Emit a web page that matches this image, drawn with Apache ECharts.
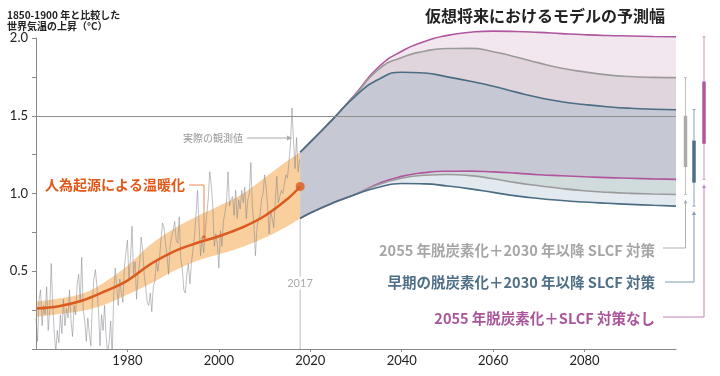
<!DOCTYPE html>
<html lang="ja">
<head>
<meta http-equiv="Content-Type" content="text/html; charset=utf-8"/>
<title>世界気温の上昇と予測幅</title>
<script type="text/javascript" src="https://cdn.jsdelivr.net/npm/echarts@6.0.0/dist/echarts.min.js"></script>
<style>
    body { margin: 0; background: #fff; }
    #main { width: 720px; height: 376px; }
</style>
</head>
<body>
<div id="main"></div>
<script type="text/javascript">
// 実際の観測値（1960年1月から4か月ごと）
var obsStart = 1960;
var obsStep = 1 / 3;
var obsValues = [
    0.20, 0.05, 0.32,  0.38, 0.15, 0.28,  0.22, 0.40, 0.12,  0.25, 0.55, 0.28,  0.10, -0.02, 0.12,
    0.04, 0.22, 0.10,  0.32, 0.15, 0.26,  0.20, 0.38, 0.18,  0.08, 0.28, 0.22,  0.42, 0.48, 0.30,
    0.59, 0.25, 0.18,  0.05, 0.20, 0.10,  0.02, 0.30, 0.45,  0.51, 0.40, 0.25,  0.02, 0.22, 0.12,
    0.28, 0.08, -0.02, 0.04, 0.18, -0.05, 0.35, 0.52, 0.40,  0.28, 0.45, 0.36,  0.30, 0.52, 0.62,
    0.70, 0.45, 0.58,  0.79, 0.48, 0.56,  0.32, 0.48, 0.55,  0.72, 0.64, 0.48,  0.40, 0.30, 0.28,
    0.36, 0.24, 0.40,  0.44, 0.56, 0.50,  0.58, 0.70, 0.81,  0.78, 0.68, 0.60,  0.48, 0.66, 0.72,
    0.76, 0.82, 0.70,  0.68, 0.85, 0.58,  0.52, 0.38, 0.36,  0.48, 0.55, 0.42,  0.55, 0.64, 0.72,
    0.86, 1.02, 0.80,  0.60, 0.72, 0.62,  0.74, 0.86, 0.96,  1.14, 1.06, 0.92,  0.66, 0.74, 0.68,
    0.52, 0.76, 0.66,  0.82, 0.88, 0.94,  1.14, 0.92, 0.96,  0.98, 0.86, 1.02,  0.84, 0.96, 0.90,
    1.02, 0.94, 1.04,  0.84, 0.96, 1.00,  1.20, 0.92, 0.80,  0.60, 0.78, 0.84,  0.86, 0.96, 1.00,
    1.12, 1.04, 0.92,  0.74, 0.88, 0.84,  0.78, 0.94, 1.11,  0.94, 0.98, 1.02,  1.00, 1.06, 1.12,
    1.10, 1.20, 1.32,  1.55, 1.34, 1.16,  1.36, 1.14, 1.22
];

// 人為起源による温暖化（中央値と幅）
var warmYears = [1960, 1965, 1970, 1975, 1980, 1985, 1990, 1995, 2000, 2005, 2010, 2015, 2017.8];
var warmMid  = [0.26, 0.275, 0.31, 0.37, 0.44, 0.545, 0.625, 0.68, 0.725, 0.78, 0.855, 0.965, 1.045];
var warmHigh = [0.305, 0.325, 0.355, 0.43, 0.535, 0.67, 0.77, 0.85, 0.92, 0.995, 1.10, 1.21, 1.265];
var warmLow  = [0.207, 0.225, 0.245, 0.285, 0.35, 0.42, 0.50, 0.565, 0.61, 0.655, 0.715, 0.79, 0.84];

// 将来予測の幅（上端・下端）
var fanYears  = [2017.8, 2020, 2025, 2030, 2035, 2040, 2045, 2050, 2055, 2060, 2065, 2070, 2075, 2080, 2085, 2090, 2095, 2100];
var purpleUp  = [1.265, 1.33, 1.48, 1.645, 1.815, 1.915, 1.978, 2.017, 2.037, 2.044, 2.042, 2.036, 2.028, 2.021, 2.016, 2.013, 2.010, 2.008];
var grayUp    = [1.265, 1.33, 1.48, 1.64, 1.80, 1.875, 1.915, 1.932, 1.933, 1.912, 1.878, 1.84, 1.806, 1.782, 1.763, 1.752, 1.747, 1.745];
var blueUp    = [1.265, 1.33, 1.48, 1.63, 1.735, 1.78, 1.775, 1.75, 1.722, 1.69, 1.652, 1.617, 1.59, 1.572, 1.558, 1.548, 1.542, 1.539];
var purpleLow = [0.84, 0.875, 0.94, 0.997, 1.065, 1.11, 1.134, 1.143, 1.144, 1.139, 1.131, 1.121, 1.114, 1.108, 1.102, 1.098, 1.094, 1.091];
var grayLow   = [0.84, 0.875, 0.94, 0.997, 1.058, 1.098, 1.117, 1.122, 1.115, 1.095, 1.07, 1.05, 1.032, 1.018, 1.008, 1.001, 0.997, 0.994];
var blueLow   = [0.84, 0.875, 0.94, 0.995, 1.04, 1.064, 1.062, 1.048, 1.03, 1.007, 0.985, 0.968, 0.955, 0.945, 0.937, 0.93, 0.924, 0.919];

// 2100年の太線部分（灰・青・紫の順）
var likelyHigh = [1.50, 1.34, 1.72];
var likelyLow  = [1.17, 1.07, 1.32];

var refLevel = 1.5;
var scenarioLabels = [
    '2055 年脱炭素化＋2030 年以降 SLCF 対策',
    '早期の脱炭素化＋2030 年以降 SLCF 対策',
    '2055 年脱炭素化＋SLCF 対策なし'
];

var JP = '"Noto Sans CJK JP", sans-serif';
var colGray = '#9b9b9b', colBlue = '#4a6d84', colPurple = '#b0569e';
var fanSmooth = 0.55;
var rangeStyle = [
    {thin: '#c2c2c2', thick: '#ababab', leader: '#b0b0b0', offset: 9.5, leaderY: 248, endX: 663},
    {thin: '#88a1b2', thick: '#4e6f85', leader: '#7f9aad', offset: 18, leaderY: 282, endX: 665},
    {thin: '#cc93c0', thick: '#b0569d', leader: '#c382b5', offset: 28, leaderY: 317, endX: 663}
];

function pairs(xs, ys) {
    return xs.map(function (x, i) { return [x, ys[i]]; });
}
function last(a) { return a[a.length - 1]; }

function areaSeries(xs, ys, color, smooth) {
    return {
        type: 'line', data: pairs(xs, ys), smooth: smooth, showSymbol: false, silent: true, clip: false,
        lineStyle: {opacity: 0}, areaStyle: {color: color, opacity: 1, origin: 'start'}, z: 2
    };
}
function lineSeries(xs, ys, color, width, smooth) {
    return {
        type: 'line', data: pairs(xs, ys), smooth: smooth, showSymbol: false, silent: true, clip: false,
        lineStyle: {color: color, width: width}, z: 3
    };
}

var obsData = obsValues.map(function (v, i) { return [obsStart + i * obsStep, v]; });
var endYear = last(fanYears);
var rangeData = [
    [endYear, last(grayLow), last(grayUp), likelyLow[0], likelyHigh[0]],
    [endYear, last(blueLow), last(blueUp), likelyLow[1], likelyHigh[1]],
    [endYear, last(purpleLow), last(purpleUp), likelyLow[2], likelyHigh[2]]
];

function renderRange(params, api) {
    var s = rangeStyle[params.dataIndex];
    var pLow = api.coord([api.value(0), api.value(1)]);
    var x = pLow[0] + s.offset;
    var yLow = pLow[1];
    var yHigh = api.coord([api.value(0), api.value(2)])[1];
    var yLl = api.coord([api.value(0), api.value(3)])[1];
    var yLh = api.coord([api.value(0), api.value(4)])[1];
    return {
        type: 'group',
        children: [
            {type: 'line', shape: {x1: x, y1: yHigh, x2: x, y2: yLow}, style: {stroke: s.thin, lineWidth: 1}},
            {type: 'line', shape: {x1: x - 1.5, y1: yHigh, x2: x + 1.5, y2: yHigh}, style: {stroke: s.thin, lineWidth: 1}},
            {type: 'line', shape: {x1: x - 1.5, y1: yLow, x2: x + 1.5, y2: yLow}, style: {stroke: s.thin, lineWidth: 1}},
            {type: 'line', shape: {x1: x, y1: yLh, x2: x, y2: yLl}, style: {stroke: s.thick, lineWidth: 3.5}},
            {type: 'polygon', shape: {points: [[x, yLow + 5], [x - 2, yLow + 9], [x + 2, yLow + 9]]}, style: {fill: s.leader}},
            {type: 'polyline', shape: {points: [[x, yLow + 9], [x, s.leaderY], [s.endX, s.leaderY]]},
                style: {stroke: s.leader, lineWidth: 1, fill: null}}
        ]
    };
}

var labelColors = ['#a6a6a6', '#4e6f86', '#a9559b'];
var labelYs = [250, 282, 318];
var graphics = [
    {type: 'text', x: 7, y: 10, z: 100, style: {text: '1850-1900 年と比較した\n世界気温の上昇（°C）', fontFamily: JP,
        fontSize: 10, fontWeight: 'bold', lineHeight: 10.5, fill: '#222', verticalAlign: 'top'}},
    {type: 'text', x: 545, y: 16, z: 100, style: {text: '仮想将来におけるモデルの予測幅', fontFamily: JP,
        fontSize: 16, fontWeight: 'bold', fill: '#222', align: 'center', verticalAlign: 'middle'}},
    {type: 'text', x: 45, y: 185, z: 100, style: {text: '人為起源による温暖化', fontFamily: JP,
        fontSize: 14, fontWeight: 'bold', fill: '#e0581a', verticalAlign: 'middle'}},
    {type: 'polyline', z: 100, shape: {points: [[189, 185], [204, 185], [204, 236]]}, style: {stroke: '#ea8a4a', lineWidth: 1, fill: null}},
    {type: 'circle', z: 100, shape: {cx: 204, cy: 237, r: 1.8}, style: {fill: '#e06a2a'}},
    {type: 'text', x: 183, y: 138, z: 100, style: {text: '実際の観測値', fontFamily: JP,
        fontSize: 10, fill: '#9a9a9a', verticalAlign: 'middle'}},
    {type: 'line', z: 100, shape: {x1: 247, y1: 138, x2: 288, y2: 138}, style: {stroke: '#aaa', lineWidth: 1}},
    {type: 'polygon', z: 100, shape: {points: [[292, 138], [287, 135.5], [287, 140.5]]}, style: {fill: '#aaa'}},
    {type: 'text', x: 300, y: 283, z: 100, style: {text: '2017', fontFamily: 'Lato, sans-serif', fontSize: 11,
        fill: '#aaa', align: 'center', verticalAlign: 'middle', backgroundColor: '#fff', padding: [1, 0]}}
];
scenarioLabels.forEach(function (t, i) {
    graphics.push({type: 'text', x: 655, y: labelYs[i], z: 100, style: {text: t, fontFamily: JP, fontSize: 14.5,
        fontWeight: 'bold', fill: labelColors[i], align: 'right', verticalAlign: 'middle'}});
});

var chart = echarts.init(document.getElementById('main'));
var option = {
    animation: false,
    grid: {left: 36, right: 44, top: 38, bottom: 27, containLabel: false, outerBoundsMode: 'none'},
    xAxis: {
        type: 'value', min: 1960, max: 2100, interval: 20, z: 10,
        axisLine: {lineStyle: {color: '#888', width: 1}},
        axisTick: {length: 3, lineStyle: {color: '#888'}},
        axisLabel: {
            showMinLabel: false, showMaxLabel: false, color: '#222', fontFamily: 'Lato, sans-serif', fontSize: 13, margin: 5,
            formatter: function (v) { return String(v); }
        },
        splitLine: {show: false}
    },
    yAxis: {
        type: 'value', min: 0, max: 2, interval: 0.25, z: 10,
        axisLine: {show: true, lineStyle: {color: '#888', width: 1}},
        axisTick: {show: true, length: 4, lineStyle: {color: '#888'}},
        axisLabel: {
            color: '#222', fontFamily: 'Lato, sans-serif', fontSize: 13, margin: 8,
            formatter: function (v) {
                return (v > 0 && Math.abs(v * 2 - Math.round(v * 2)) < 1e-6) ? v.toFixed(1) : '';
            }
        },
        splitLine: {show: false}
    },
    graphic: {elements: graphics},
    series: [
        areaSeries(warmYears, warmHigh, '#f9cf9e', 0.4),
        areaSeries(warmYears, warmLow, '#ffffff', 0.4),
        {
            type: 'line', data: obsData, showSymbol: false, silent: true, z: 2,
            lineStyle: {color: 'rgba(128,130,138,0.5)', width: 1},
            markLine: {
                silent: true, symbol: ['none', 'none'], label: {show: false},
                lineStyle: {color: '#8f8f8f', type: 'solid', width: 1.2},
                data: [{yAxis: refLevel}]
            }
        },
        {
            type: 'line', data: [[last(warmYears), 0], [last(warmYears), last(warmLow)]], showSymbol: false, silent: true, z: 3,
            lineStyle: {color: '#d2d2d2', width: 1.5}
        },
        lineSeries(warmYears, warmMid, '#dc5a1e', 2.5, 0.4),
        {
            type: 'scatter', data: [[last(warmYears), last(warmMid)]], symbolSize: 9, silent: true, z: 5,
            itemStyle: {color: '#dc5a1e'}
        },
        areaSeries(fanYears, purpleUp, '#f2e7ef', fanSmooth),
        areaSeries(fanYears, grayUp, '#e0d4dd', fanSmooth),
        areaSeries(fanYears, blueUp, '#c6c9d3', fanSmooth),
        areaSeries(fanYears, purpleLow, '#d0dbdc', fanSmooth),
        areaSeries(fanYears, grayLow, '#e2eaef', fanSmooth),
        areaSeries(fanYears, blueLow, '#ffffff', fanSmooth),
        lineSeries(fanYears, purpleUp, colPurple, 1.6, fanSmooth),
        lineSeries(fanYears, grayUp, colGray, 1.6, fanSmooth),
        lineSeries(fanYears, blueUp, colBlue, 1.6, fanSmooth),
        lineSeries(fanYears, purpleLow, colPurple, 1.6, fanSmooth),
        lineSeries(fanYears, grayLow, colGray, 1.6, fanSmooth),
        lineSeries(fanYears, blueLow, colBlue, 1.6, fanSmooth),
        {
            type: 'custom', data: rangeData, renderItem: renderRange, silent: true, z: 6,
            encode: {x: 0, y: [1, 2, 3, 4]}
        }
    ]
};
chart.setOption(option);
</script>
</body>
</html>
